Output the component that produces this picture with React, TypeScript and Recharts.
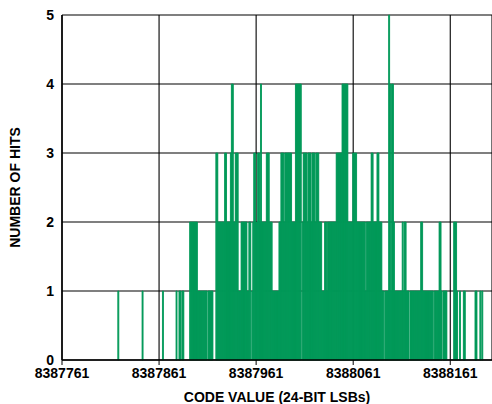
import { BarChart, Bar, XAxis, YAxis, CartesianGrid } from "recharts";

// code histogram, 24-bit ADC output around mid-scale
const FIRST_CODE = 8387761;
const LAST_CODE = 8388204;
const xTicks = [8387761, 8387861, 8387961, 8388061, 8388161];
const yTicks = [0, 1, 2, 3, 4, 5];

// hits per code, one block per 100 codes (block start = first code)
const hits8387761 = [
  0, 0, 0, 0, 0, 0, 0, 0, 0, 0, 0, 0, 0, 0, 0, 0, 0, 0, 0, 0,
  0, 0, 0, 0, 0, 0, 0, 0, 0, 0, 0, 0, 0, 0, 0, 0, 0, 0, 0, 0,
  0, 0, 0, 0, 0, 0, 0, 0, 0, 0, 0, 0, 0, 0, 0, 0, 0, 0, 1, 0,
  0, 0, 0, 0, 0, 0, 0, 0, 0, 0, 0, 0, 0, 0, 0, 0, 0, 0, 0, 0,
  0, 0, 0, 1, 0, 0, 0, 0, 0, 0, 0, 0, 0, 0, 0, 0, 0, 0, 0, 0,
];
const hits8387861 = [
  0, 0, 0, 0, 1, 0, 0, 0, 0, 0, 0, 0, 0, 0, 0, 0, 0, 0, 1, 0,
  0, 1, 1, 0, 1, 1, 0, 0, 0, 0, 0, 0, 2, 2, 2, 2, 2, 2, 2, 2,
  1, 1, 1, 1, 1, 1, 1, 1, 1, 1, 0, 1, 1, 1, 1, 1, 0, 0, 0, 3,
  3, 2, 2, 2, 2, 2, 2, 2, 3, 3, 2, 2, 2, 2, 3, 4, 4, 2, 2, 3,
  3, 3, 1, 1, 1, 2, 2, 2, 2, 2, 2, 1, 1, 2, 2, 0, 1, 2, 3, 3,
];
const hits8387961 = [
  2, 2, 3, 3, 2, 4, 2, 2, 2, 2, 2, 3, 3, 3, 2, 2, 2, 1, 1, 1,
  1, 1, 1, 1, 2, 2, 3, 3, 3, 2, 3, 3, 3, 3, 3, 3, 3, 2, 2, 2,
  2, 4, 4, 4, 4, 4, 4, 0, 2, 3, 3, 3, 3, 2, 3, 3, 3, 2, 3, 3,
  3, 2, 3, 3, 3, 2, 2, 2, 1, 1, 1, 2, 2, 1, 2, 2, 2, 2, 2, 2,
  2, 2, 2, 3, 3, 3, 3, 3, 3, 4, 4, 4, 4, 4, 4, 2, 2, 2, 2, 2,
];
const hits8388061 = [
  3, 3, 3, 3, 2, 2, 2, 2, 2, 2, 2, 2, 2, 1, 2, 2, 2, 2, 2, 3,
  3, 2, 2, 2, 2, 3, 3, 2, 2, 2, 1, 1, 0, 1, 1, 1, 1, 5, 4, 1,
  4, 4, 2, 1, 1, 1, 1, 1, 1, 1, 1, 2, 1, 2, 2, 1, 1, 1, 0, 1,
  1, 1, 1, 1, 1, 1, 1, 1, 1, 1, 2, 2, 1, 1, 1, 1, 1, 1, 1, 1,
  1, 1, 1, 0, 1, 1, 1, 1, 1, 2, 2, 1, 0, 1, 1, 1, 1, 0, 0, 0,
];
const hits8388161 = [
  0, 0, 0, 0, 2, 2, 2, 1, 0, 0, 1, 0, 0, 0, 1, 1, 0, 0, 0, 0,
  0, 0, 0, 0, 0, 0, 1, 1, 0, 0, 0, 1, 0, 1, 0, 0, 0, 0, 0, 0,
  0,
];

const blocks: [number, number[]][] = [
  [8387761, hits8387761],
  [8387861, hits8387861],
  [8387961, hits8387961],
  [8388061, hits8388061],
  [8388161, hits8388161],
];

const data = blocks.flatMap(([start, hits]) =>
  hits.map((h, i) => ({ code: start + i, hits: h })),
);

const GREEN = "#009858";
const FONT = "'Liberation Sans', Arial, Helvetica, sans-serif";
const tickStyle = { fill: "#000", fontSize: 14, fontWeight: "bold", fontFamily: FONT };

export default function App() {
  return (
    <div
      style={{
        position: "absolute",
        left: 0,
        top: 0,
        width: 492,
        height: 404,
        background: "#fff",
        fontFamily: FONT,
      }}
    >
      <BarChart
        width={492}
        height={404}
        data={data}
        margin={{ top: 15, right: 0, bottom: 0, left: 0 }}
        barCategoryGap={0}
        barGap={0}
      >
        <Bar
          dataKey="hits"
          fill={GREEN}
          stroke={GREEN}
          strokeWidth={0.9}
          isAnimationActive={false}
        />
        <CartesianGrid stroke="#000" strokeWidth={1.1} />
        <XAxis
          dataKey="code"
          type="number"
          domain={[FIRST_CODE, LAST_CODE]}
          ticks={xTicks}
          interval={0}
          allowDataOverflow
          height={44}
          tick={tickStyle}
          tickSize={5}
          tickMargin={3}
          tickLine={{ stroke: "#000", strokeWidth: 1 }}
          axisLine={{ stroke: "#000", strokeWidth: 1.5 }}
          label={{
            value: "CODE VALUE (24-BIT LSBs)",
            position: "insideBottom",
            offset: 2,
            fill: "#000",
            fontSize: 14,
            fontWeight: "bold",
            fontFamily: FONT,
          }}
        />
        <YAxis
          type="number"
          domain={[0, 5]}
          ticks={yTicks}
          interval={0}
          width={62}
          tick={tickStyle}
          tickLine={false}
          tickSize={0}
          tickMargin={8}
          axisLine={{ stroke: "#000", strokeWidth: 1.5 }}
          label={{
            value: "NUMBER OF HITS",
            angle: -90,
            position: "insideLeft",
            offset: 15,
            fill: "#000",
            fontSize: 14,
            fontWeight: "bold",
            fontFamily: FONT,
            style: { textAnchor: "middle" },
          }}
        />
      </BarChart>
    </div>
  );
}
